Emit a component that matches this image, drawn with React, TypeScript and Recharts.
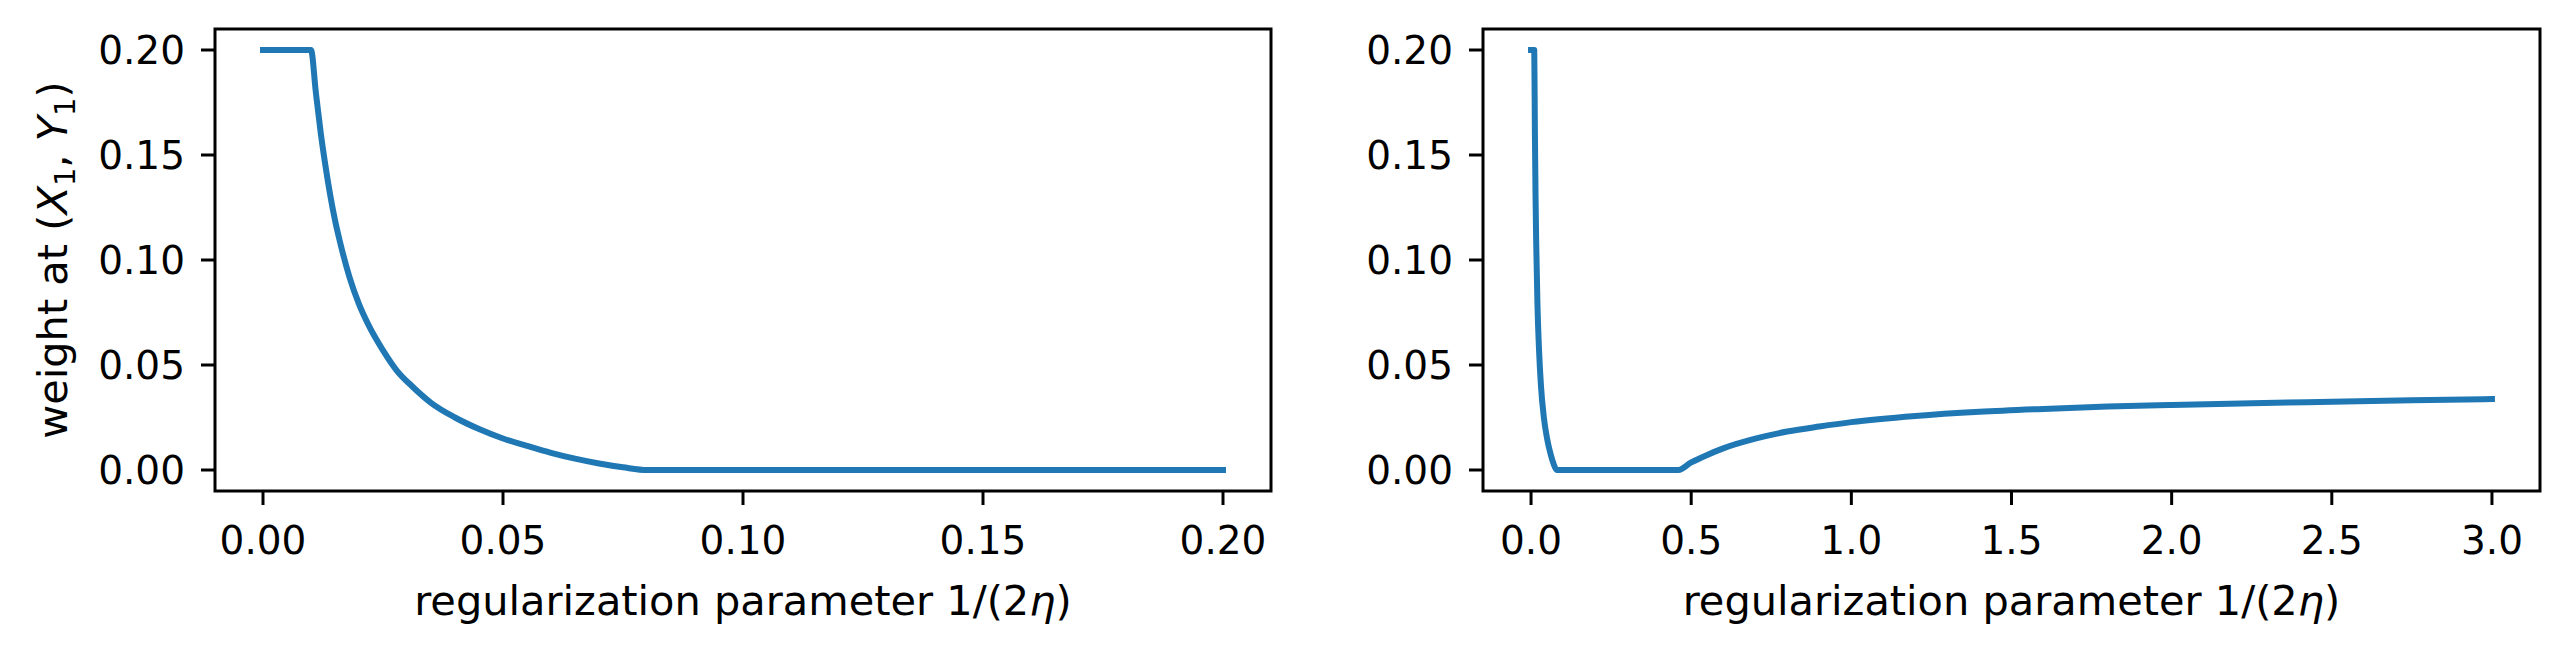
import React from 'react';
import { LineChart, Line, XAxis, YAxis, ReferenceArea } from 'recharts';

// ---------- data ----------
const leftX = [0, 0.005, 0.01, 0.011, 0.012, 0.013, 0.014, 0.015, 0.016, 0.018, 0.02, 0.022, 0.025, 0.028, 0.031, 0.035, 0.04, 0.045, 0.05, 0.055, 0.06, 0.065, 0.07, 0.075, 0.08, 0.1, 0.15, 0.2];
const leftY = [0.2, 0.2, 0.2, 0.18, 0.161, 0.145, 0.131, 0.119, 0.109, 0.092, 0.079, 0.069, 0.057, 0.047, 0.04, 0.032, 0.025, 0.0195, 0.015, 0.0115, 0.0082, 0.0054, 0.0031, 0.0013, 0, 0, 0, 0];

const rightX = [0, 0.01, 0.012, 0.014, 0.016, 0.02, 0.025, 0.031, 0.04, 0.05, 0.06, 0.07, 0.08, 0.2, 0.46, 0.5, 0.55, 0.6, 0.7, 0.8, 0.9, 1.0, 1.2, 1.4, 1.6, 1.8, 2.0, 2.25, 2.5, 2.75, 3.0];
const rightY = [0.2, 0.2, 0.161, 0.131, 0.109, 0.079, 0.057, 0.04, 0.025, 0.015, 0.0082, 0.0031, 0, 0, 0, 0.0036, 0.0072, 0.0103, 0.0149, 0.0183, 0.0207, 0.0228, 0.0257, 0.0277, 0.0291, 0.0302, 0.031, 0.0318, 0.0325, 0.0332, 0.0338];

const leftXTicks = [0, 0.05, 0.1, 0.15, 0.2];
const rightXTicks = [0, 0.5, 1.0, 1.5, 2.0, 2.5, 3.0];
const yTicks = [0, 0.05, 0.1, 0.15, 0.2];

const leftXDomain = [-0.01, 0.21];
const rightXDomain = [-0.15, 3.15];
const yDomain = [-0.01, 0.21];

const leftData = leftX.map((x, i) => ({ x, y: leftY[i] }));
const rightData = rightX.map((x, i) => ({ x, y: rightY[i] }));

// ---------- styles ----------
const FONT = "'DejaVu Sans', sans-serif";
const FS = 39;
const LFS = 41.5;
const BLUE = '#1f77b4';
const tickStyle = { fill: '#000', fontSize: FS, fontFamily: FONT };
const tickLineStyle = { stroke: '#000', strokeWidth: 3 };

const XLabel = (props: any) => {
  const vb = props.viewBox || { x: 0, y: 0, width: 0, height: 0 };
  const cx = vb.x + vb.width / 2;
  const y = vb.y + 124;
  return (
    <text x={cx} y={y} textAnchor="middle" fontFamily={FONT} fontSize={LFS} fill="#000">
      regularization parameter 1/(2<tspan fontStyle="italic">η</tspan>)
    </text>
  );
};

const YLabel = (props: any) => {
  const vb = props.viewBox || { x: 0, y: 0, width: 0, height: 0 };
  const cy = vb.y + vb.height / 2;
  const x = 67;
  return (
    <text
      x={x}
      y={cy}
      textAnchor="middle"
      fontFamily={FONT}
      fontSize={LFS}
      fill="#000"
      transform={`rotate(-90, ${x}, ${cy})`}
    >
      weight at (<tspan fontStyle="italic">X</tspan>
      <tspan fontSize={29} dy={8}>1</tspan>
      <tspan dy={-8}>, </tspan>
      <tspan fontStyle="italic">Y</tspan>
      <tspan fontSize={29} dy={8}>1</tspan>
      <tspan dy={-8}>)</tspan>
    </text>
  );
};

type PanelProps = {
  data: { x: number; y: number }[];
  xDomain: number[];
  xTicks: number[];
  xDigits: number;
  width: number;
  yAxisWidth: number;
  showYLabel: boolean;
};

const Panel = ({ data, xDomain, xTicks, xDigits, width, yAxisWidth, showYLabel }: PanelProps) => (
  <LineChart width={width} height={655} data={data} margin={{ top: 29, right: 29, bottom: 0, left: 0 }}>
    <XAxis
      dataKey="x"
      type="number"
      domain={xDomain}
      ticks={xTicks}
      interval={0}
      allowDataOverflow
      height={164}
      tickSize={14}
      tickMargin={21}
      axisLine={false}
      tickLine={tickLineStyle}
      tick={tickStyle}
      tickFormatter={(v: number) => v.toFixed(xDigits)}
      label={{ content: XLabel }}
    />
    <YAxis
      type="number"
      domain={yDomain}
      ticks={yTicks}
      interval={0}
      allowDataOverflow
      width={yAxisWidth}
      tickSize={14}
      tickMargin={16}
      axisLine={false}
      tickLine={tickLineStyle}
      tick={tickStyle}
      tickFormatter={(v: number) => v.toFixed(2)}
      label={showYLabel ? { content: YLabel } : undefined}
    />
    <Line
      dataKey="y"
      type="monotone"
      stroke={BLUE}
      strokeWidth={6}
      strokeLinecap="square"
      strokeLinejoin="round"
      dot={false}
      activeDot={false}
      isAnimationActive={false}
    />
    <ReferenceArea
      x1={xDomain[0]}
      x2={xDomain[1]}
      y1={yDomain[0]}
      y2={yDomain[1]}
      fill="none"
      fillOpacity={0}
      stroke="#000"
      strokeWidth={3}
      ifOverflow="visible"
    />
  </LineChart>
);

export default function App() {
  return (
    <div style={{ position: 'absolute', left: 0, top: 0, width: 2569, height: 655, background: '#fff' }}>
      <div style={{ position: 'absolute', left: 0, top: 0 }}>
        <Panel data={leftData} xDomain={leftXDomain} xTicks={leftXTicks} xDigits={2} width={1300} yAxisWidth={215} showYLabel={true} />
      </div>
      <div style={{ position: 'absolute', left: 1300, top: 0 }}>
        <Panel data={rightData} xDomain={rightXDomain} xTicks={rightXTicks} xDigits={1} width={1269} yAxisWidth={183} showYLabel={false} />
      </div>
    </div>
  );
}
